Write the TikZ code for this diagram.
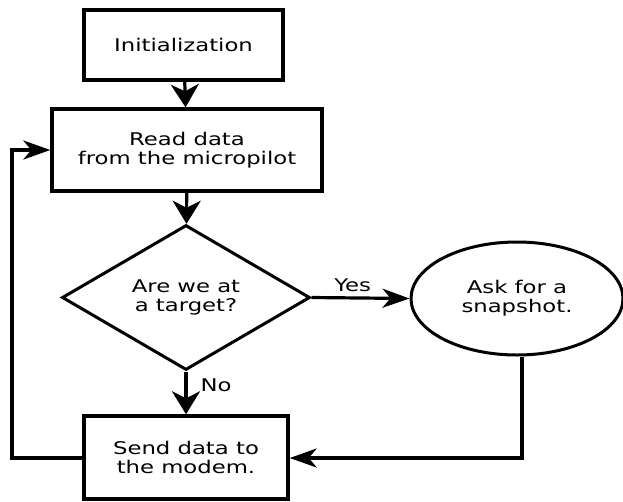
\documentclass[tikz,border=0pt]{standalone}
\usepackage{fontspec}
\setmainfont{DejaVu Sans}[FakeStretch=1.3]
\usetikzlibrary{shapes.geometric,arrows.meta}
\tikzset{
  x=1pt,y=-1pt,
  every node/.style={font=\fontsize{17.5}{19}\selectfont,align=center,inner sep=0pt},
  box/.style={draw,line width=3.4pt,rectangle},
  shp/.style={draw,line width=3pt},
  conn/.style={line width=3.2pt},
  vtip/.style={-{Stealth[length=23pt,width=28pt,inset=7pt]}},
  htip/.style={-{Stealth[length=27pt,width=19pt,inset=8pt]}},
  lbl/.style={font=\fontsize{17.5}{19}\selectfont}
}
\begin{document}
\begin{tikzpicture}
\useasboundingbox (0,0) rectangle (623,501);
\node[box,minimum width=199pt,minimum height=70pt] (init) at (183.5,45) {Initialization};
\node[box,minimum width=270pt,minimum height=82pt] (read) at (187,150) {Read data\\from the micropilot};
\node[shp,diamond,minimum width=248pt,minimum height=145pt] (dec) at (186,297.5) {Are we at\\a target?};
\node[shp,ellipse,minimum width=212pt,minimum height=113pt] (snap) at (517,298.5) {Ask for a\\snapshot.};
\node[box,minimum width=204pt,minimum height=83pt] (send) at (186,457.5) {Send data to\\the modem.};
\coordinate (lb) at (12,458);
\coordinate (lt) at (12,150);
\coordinate (eb) at (522,458);
\draw[conn,vtip] (init) -- (read);
\draw[conn,vtip] (read) -- (dec);
\draw[conn,htip] (dec.east) -- node[lbl,above=5pt,pos=0.42] {Yes} (snap.west);
\draw[conn,vtip] (dec.south) -- node[lbl,right=13pt,pos=0.33] {No} (send.north);
\draw[conn,htip] (snap.south -| eb) -- (eb) -- (send.east |- eb);
\draw[conn,htip] (send.west |- lb) -- (lb) -- (lt) -- (read.west |- lt);
\end{tikzpicture}
\end{document}
